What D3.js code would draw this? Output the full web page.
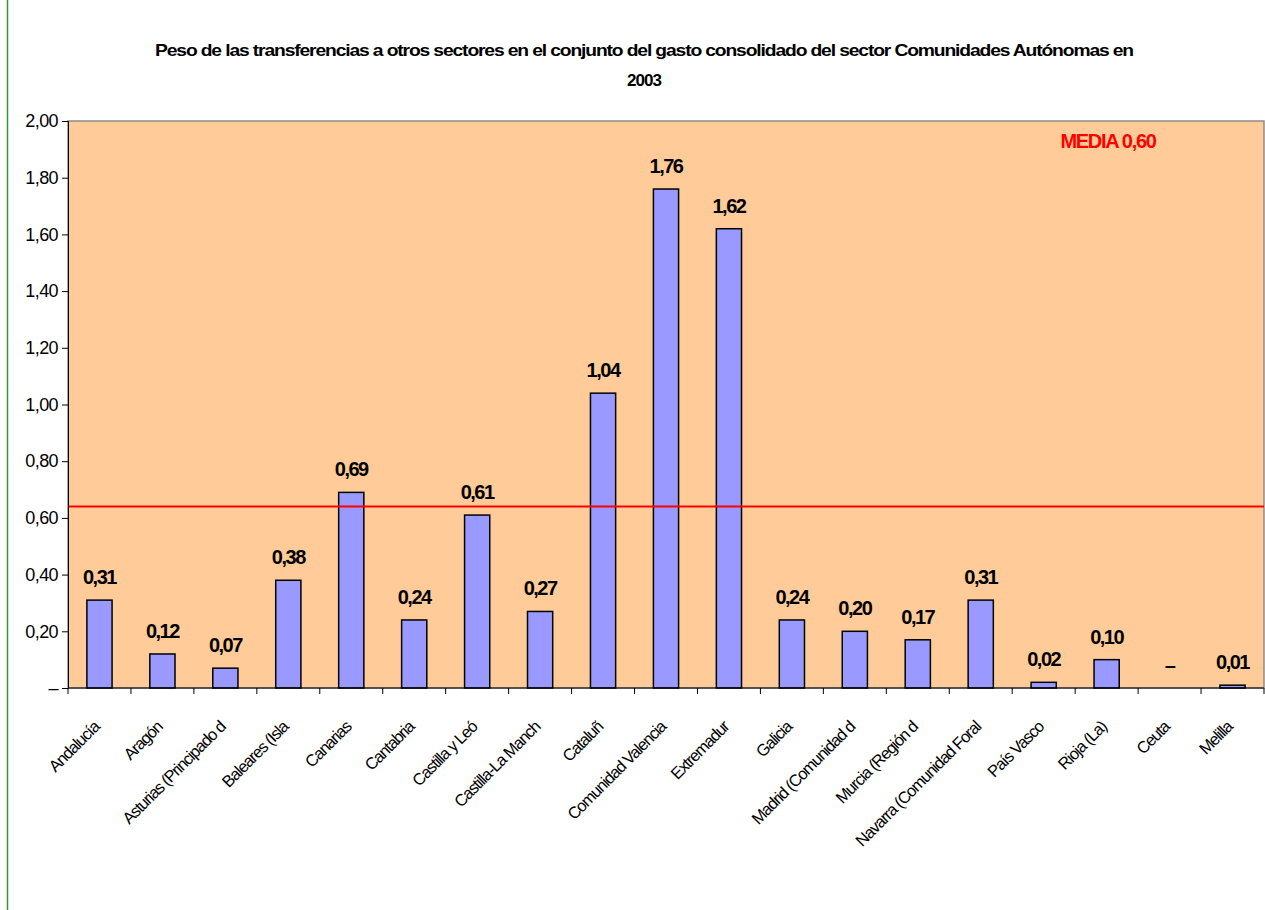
<!DOCTYPE html>
<html>
<head>
<meta charset="utf-8">
<script src="https://cdn.jsdelivr.net/npm/d3@7"></script>
<style>
  body { margin: 0; background: #fff; }
  svg { display: block; font-family: Arial, "Liberation Sans", sans-serif; }
</style>
</head>
<body>
<svg id="chart"></svg>
<script>
// category labels as they show in the chart (cut off at the axis)
const regions = ["Andalucía", "Aragón", "Asturias (Principado d", "Baleares (Isla", "Canarias", "Cantabria",
  "Castilla y Leó", "Castilla-La Manch", "Cataluñ", "Comunidad Valencia", "Extremadur", "Galicia",
  "Madrid (Comunidad d", "Murcia (Región d", "Navarra (Comunidad Foral", "País Vasco", "Rioja (La)",
  "Ceuta", "Melilla"];
const values = [0.31, 0.12, 0.07, 0.38, 0.69, 0.24, 0.61, 0.27, 1.04, 1.76, 1.62, 0.24, 0.20, 0.17, 0.31, 0.02, 0.10, 0, 0.01];
const yTicks = [0, 0.2, 0.4, 0.6, 0.8, 1.0, 1.2, 1.4, 1.6, 1.8, 2.0];
const mediaValue = 0.64;
const mediaLabel = "MEDIA 0,60";
const titleLines = ["Peso de las transferencias a otros sectores en el conjunto del gasto consolidado del sector Comunidades Autónomas en", "2003"];

const width = 1265, height = 910;
const svg = d3.select("#chart").attr("width", width).attr("height", height);

const plotLeft = 68, plotRight = 1264, plotTop = 121, plotBottom = 688;

const fmt = v => v === 0 ? "–" : d3.format(".2f")(v).replace(".", ",");

const x = d3.scaleBand().domain(regions).range([plotLeft, plotRight]);
const y = d3.scaleLinear().domain([0, 2]).range([plotBottom, plotTop]);

// green frame edge
svg.append("line").attr("x1", 7.5).attr("x2", 7.5).attr("y1", 0).attr("y2", height)
  .attr("stroke", "#2e9a2e").attr("stroke-width", 1.5);

// title
svg.selectAll(".title").data(titleLines).enter().append("text")
  .attr("class", "title")
  .attr("x", 644).attr("y", (d, i) => 56 + i * 30)
  .attr("text-anchor", "middle")
  .attr("font-size", 17).attr("font-weight", "bold")
  .attr("letter-spacing", -1)
  .attr("textLength", (d, i) => i === 0 ? 978 : null)
  .attr("lengthAdjust", "spacingAndGlyphs")
  .text(d => d);

// plot background
svg.append("rect").attr("x", plotLeft).attr("y", plotTop)
  .attr("width", plotRight - plotLeft).attr("height", plotBottom - plotTop)
  .attr("fill", "#ffcc99").attr("stroke", "#8c8c8c").attr("stroke-width", 1.5);

// bars
const bw = x.bandwidth() * 0.4;
svg.selectAll(".bar").data(values).enter().append("rect")
  .attr("class", "bar")
  .attr("x", (d, i) => x(regions[i]) + x.bandwidth() / 2 - bw / 2)
  .attr("y", d => y(d))
  .attr("width", bw)
  .attr("height", d => plotBottom - y(d))
  .attr("fill", "#9999ff").attr("stroke", "#000").attr("stroke-width", 1.5)
  .style("display", d => d === 0 ? "none" : null);

// value labels
svg.selectAll(".val").data(values).enter().append("text")
  .attr("class", "val")
  .attr("x", (d, i) => x(regions[i]) + x.bandwidth() / 2)
  .attr("y", d => y(d) - 16)
  .attr("text-anchor", "middle")
  .attr("font-size", 20).attr("font-weight", "bold").attr("letter-spacing", -1.5)
  .text(fmt);

// media line
svg.append("line").attr("x1", plotLeft).attr("x2", plotRight)
  .attr("y1", y(mediaValue)).attr("y2", y(mediaValue))
  .attr("stroke", "#ff0000").attr("stroke-width", 2);
svg.append("text").attr("x", 1108).attr("y", 148).attr("text-anchor", "middle")
  .attr("font-size", 20).attr("font-weight", "bold").attr("letter-spacing", -1.3)
  .attr("fill", "#ff0000").text(mediaLabel);

// y axis
const yAxis = d3.axisLeft(y).tickValues(yTicks).tickSize(6).tickFormat(fmt);
const gy = svg.append("g").attr("transform", `translate(${plotLeft},0)`).call(yAxis);
gy.select(".domain").attr("stroke", "#000");
gy.selectAll("text").attr("font-size", 18).attr("letter-spacing", -0.6).attr("fill", "#000")
  .attr("font-family", "Arial, 'Liberation Sans', sans-serif").attr("x", -10);

// x axis
const gx = svg.append("g").attr("transform", `translate(0,${plotBottom})`);
gx.append("line").attr("x1", plotLeft).attr("x2", plotRight).attr("stroke", "#000");
const edges = d3.range(regions.length + 1).map(i => plotLeft + i * x.step());
gx.selectAll(".tk").data(edges).enter().append("line")
  .attr("x1", d => d).attr("x2", d => d).attr("y1", 0).attr("y2", 6).attr("stroke", "#000");

gx.selectAll(".lbl").data(regions).enter().append("text")
  .attr("transform", d => `translate(${x(d) + x.bandwidth() / 2 + 1},40) rotate(-45)`)
  .attr("text-anchor", "end")
  .attr("font-size", 16.5).attr("letter-spacing", -1.1)
  .text(d => d);
</script>
</body>
</html>
